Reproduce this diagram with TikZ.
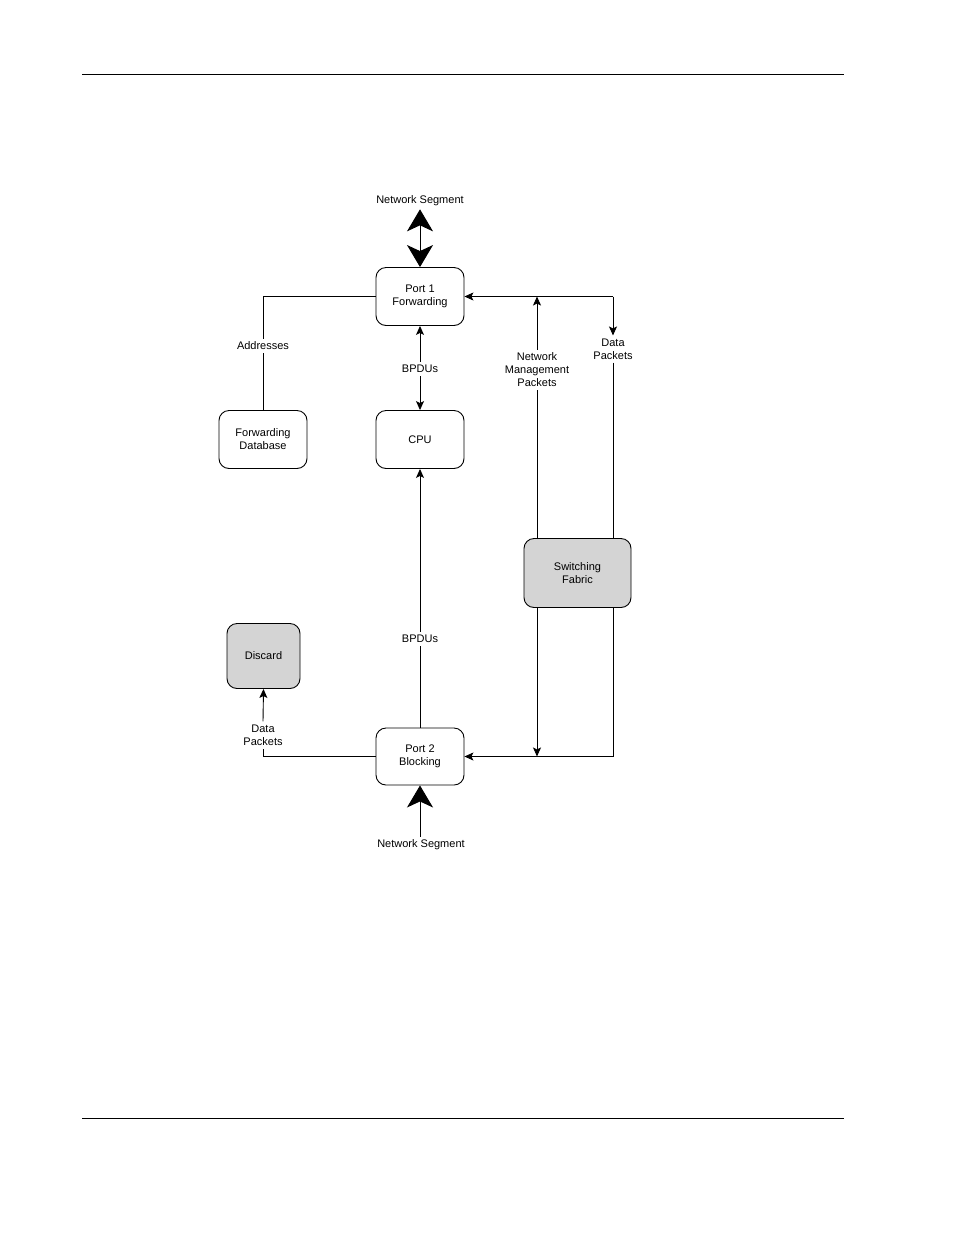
\documentclass[tikz,border=0pt]{standalone}
\usepackage{fontspec}
\setmainfont{Liberation Sans}
\usetikzlibrary{arrows.meta,positioning}
\tikzset{
  box/.style={draw, line width=0.9pt, rounded corners=10pt, minimum width=88pt, minimum height=58pt, align=center},
  greybox/.style={box, fill=black!17},
  lbl/.style={align=center, inner sep=3pt},
  line/.style={line width=0.9pt},
  small/.style={line, -{Stealth[length=9pt,width=8pt,inset=2pt]}},
  big/.style={line, -{Stealth[length=22pt,width=26pt,inset=6pt]}},
  bigboth/.style={line, {Stealth[length=22pt,width=26pt,inset=6pt]}-{Stealth[length=22pt,width=26pt,inset=6pt]}}
}
\begin{document}
\begin{tikzpicture}[x=1pt, y=-1pt, font=\fontsize{11}{13}\selectfont]
\useasboundingbox (0,0) rectangle (954,1235);
\draw[line width=0.8pt] (82,74) -- (844,74);
\draw[line width=0.8pt] (82,1118) -- (844,1118);

\node (port1) [box] at (420,296.5) {Port 1\\Forwarding};
\node (cpu) [box] at (420,439.5) {CPU};
\node (fdb) [box] at (263,439.5) {Forwarding\\Database};
\node (fabric) [greybox, minimum width=107pt, minimum height=69pt] at (577.5,573) {Switching\\ Fabric};
\node (discard) [greybox, minimum width=73pt, minimum height=65pt] at (263.5,656) {Discard};
\node (port2) [box, minimum height=57pt] at (420,756.5) {Port 2\\Blocking};

\node (segtop) [lbl] at (420,201) {Network Segment};
\node (segbot) [lbl] at (421,845) {Network Segment};
\node (addr) [lbl] at (263,346) {Addresses};
\node (bpdu1) [lbl] at (420,369) {BPDUs};
\node (bpdu2) [lbl] at (420,639) {BPDUs};
\node (dpkt1) [lbl] at (613,349) {Data\\Packets};
\node (dpkt2) [lbl] at (263,735) {Data\\Packets};
\node (nmp) [lbl] at (537,370) {Network\\Management\\Packets};
\coordinate (nmtop) at (nmp |- port1.east);
\coordinate (dptop) at (dpkt1 |- port1.east);
\coordinate (nmbot) at (nmp |- port2.east);

\draw[bigboth] (segtop.south) -- (port1.north);
\draw[big] (segbot.north -| port2.south) -- (port2.south);
\draw[line] (port1.west) -| (addr.north);
\draw[line] (addr.south) -- (fdb.north);
\draw[small] (bpdu1.north) -- (port1.south);
\draw[small] (bpdu1.south) -- (cpu.north);
\draw[small] (bpdu2.north) -- (cpu.south);
\draw[line] (port2.north) -- (bpdu2.south);
\draw[line] (port2.west) -| (dpkt2.south);
\draw[small] (dpkt2.north) -- (discard.south);

\draw[small] (dptop) -- (port1.east);
\draw[small] (nmp.north) -- (nmtop);
\draw[line] (nmp |- fabric.north) -- (nmp.south);
\draw[small] (dptop) -- (dpkt1.north);
\draw[line] (dpkt1.south) -- (dpkt1 |- fabric.north);
\draw[small] (nmp |- fabric.south) -- (nmbot);
\draw[small] (dpkt1 |- fabric.south) |- (port2.east);
\end{tikzpicture}
\end{document}
